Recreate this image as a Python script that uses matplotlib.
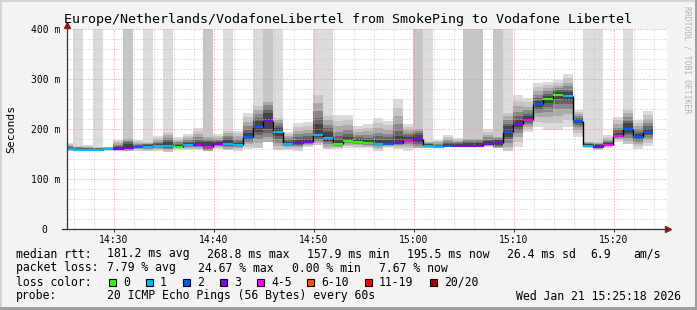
import numpy as np
import matplotlib
matplotlib.use("Agg")
import matplotlib.pyplot as plt
import matplotlib.dates as mdates
from matplotlib.patches import Rectangle
from datetime import datetime, timedelta

W, H = 697, 310

# one smokeping step per minute, the first one starts before the graph
first_step = datetime(2026, 1, 21, 14, 24, 54)
graph_start = datetime(2026, 1, 21, 14, 25, 18)
graph_end = datetime(2026, 1, 21, 15, 25, 18)

median_ms = [161, 159, 159, 159, 161, 161, 163, 165, 165, 167,
             167, 165, 169, 169, 165, 171, 171, 169, 185, 205,
             217, 195, 171, 173, 175, 189, 183, 171, 177, 175,
             173, 171, 171, 173, 179, 181, 167, 165, 167, 167,
             167, 167, 171, 173, 195, 211, 219, 251, 261, 269,
             267, 217, 167, 165, 169, 187, 201, 185, 195]
loss_idx = [1, 1, 1, 1, 1, 3, 3, 2, 1, 1,
            1, 0, 1, 3, 4, 3, 1, 1, 2, 2,
            3, 1, 1, 3, 3, 1, 1, 0, 0, 0,
            0, 1, 2, 3, 4, 3, 1, 1, 2, 3,
            3, 3, 3, 3, 2, 3, 4, 2, 0, 0,
            1, 2, 1, 3, 4, 4, 2, 2, 2]
smoke_lo = [156, 156, 156, 156, 157, 156, 157, 157, 157, 156,
            155, 159, 158, 158, 157, 161, 158, 156, 160, 163,
            175, 158, 158, 157, 165, 169, 160, 161, 163, 162,
            162, 157, 162, 160, 157, 162, 162, 163, 164, 164,
            164, 164, 164, 163, 157, 165, 195, 205, 199, 199,
            205, 185, 163, 159, 163, 175, 171, 161, 166]
smoke_hi = [173, 166, 168, 164, 165, 179, 180, 178, 175, 186,
            193, 185, 190, 203, 185, 190, 197, 197, 233, 246,
            255, 223, 195, 213, 215, 268, 226, 228, 228, 206,
            210, 223, 217, 260, 210, 200, 175, 179, 188, 183,
            180, 180, 200, 185, 233, 268, 262, 293, 295, 299,
            310, 239, 175, 175, 188, 225, 239, 219, 237]
# pings above the top of the graph in each step
pings_over = [0, 1, 0, 1, 0, 0, 2, 0, 1, 0,
              1, 0, 0, 0, 2, 0, 1, 0, 0, 1,
              2, 1, 0, 0, 0, 1, 1, 0, 0, 0,
              0, 0, 0, 0, 0, 2, 1, 0, 0, 0,
              2, 2, 0, 2, 1, 0, 0, 0, 0, 0,
              0, 0, 1, 1, 0, 0, 1, 0, 0]

loss_labels = ["0", "1", "2", "3", "4-5", "6-10", "11-19", "20/20"]
loss_colors = ["#26ff00", "#00b8ff", "#0059ff", "#7e00ff",
               "#ff00ff", "#ff5500", "#ff0000", "#a10000"]

y_ticks = [0, 100, 200, 300, 400]
y_labels = ["0  ", "100 m", "200 m", "300 m", "400 m"]

title = "Europe/Netherlands/VodafoneLibertel from SmokePing to Vodafone Libertel"
rtt_items = [("median rtt:", 16), ("181.2 ms avg", 107), ("268.8 ms max", 207),
             ("157.9 ms min", 307), ("195.5 ms now", 407), ("26.4 ms sd", 507),
             ("6.9", 590), ("am/s", 633)]
loss_items = [("packet loss:", 16), ("7.79 % avg", 107), ("24.67 % max", 198),
              ("0.00 % min", 292), ("7.67 % now", 379)]
box_x = [109, 146, 183, 220, 257, 307, 365, 430]

plt.rcParams['font.family'] = 'DejaVu Sans Mono'


def fx(px):
    return px / W


def fy(py):
    return 1 - py / H


fig = plt.figure(figsize=(W / 100, H / 100), dpi=100)
fig.patch.set_facecolor('#f3f3f3')
ax = fig.add_axes([fx(67), fy(229), 600 / W, 200 / H])
ax.set_facecolor('white')
for s in ax.spines.values():
    s.set_visible(False)

starts = mdates.date2num([first_step + timedelta(minutes=i) for i in range(len(median_ms))])
step = 1 / 1440.0
med = np.array(median_ms, float)
lo = np.array(smoke_lo, float)
hi = np.array(smoke_hi, float)
over = np.array(pings_over)

shades = ['#dcdcdc', '#c6c6c6', '#aaaaaa', '#888888', '#666666', '#444444']
fracs = [1.0, 0.8, 0.6, 0.42, 0.27, 0.14]

# pings out of range -> bar to the top
for n in (1, 2):
    sel = over >= n
    ax.bar(starts[sel], 400 - lo[sel], bottom=lo[sel], width=step, align='edge',
           color=shades[n - 1], lw=0, zorder=1)

# smoke, darker towards the median
for k, f in enumerate(fracs):
    b = med - f * (med - lo)
    t = med + f * (hi - med)
    cols = [shades[min(k + o, 5)] for o in over]
    ax.bar(starts, t - b, bottom=b, width=step, align='edge', color=cols, lw=0, zorder=1)

ax.vlines(starts[1:], med[:-1], med[1:], color='black', lw=1.0, zorder=3)
ax.hlines(med, starts, starts + step, colors=[loss_colors[i] for i in loss_idx],
          lw=1.5, zorder=4)

ax.set_xlim(mdates.date2num(graph_start), mdates.date2num(graph_end))
ax.set_ylim(0, 400)
ax.xaxis.set_major_locator(mdates.MinuteLocator(byminute=range(0, 60, 10)))
ax.xaxis.set_minor_locator(mdates.MinuteLocator(byminute=range(0, 60, 2)))
ax.xaxis.set_major_formatter(mdates.DateFormatter('%H:%M'))
ax.set_yticks(y_ticks, y_labels)
ax.set_yticks(np.arange(0, 401, 20), minor=True)
ax.set_axisbelow(False)
ax.grid(which='minor', color='#c8c8c8', linestyle=(0, (1, 2)), lw=0.72)
ax.grid(which='major', color='#f09090', linestyle=(0, (1, 2)), lw=0.72)
ax.tick_params(axis='y', which='both', length=0, pad=5, labelsize=7)
ax.tick_params(axis='x', which='major', length=2, width=0.7, color='#333333',
               pad=2, labelsize=7)
ax.tick_params(axis='x', which='minor', length=0)

# axis lines with arrows
ax.plot([0, 0], [0, 1.025], transform=ax.transAxes, color='#333333', lw=0.9,
        clip_on=False, zorder=5)
ax.plot([0], [1.02], transform=ax.transAxes, marker='^', ms=5, color='#8b1a1a',
        clip_on=False, zorder=6)
ax.plot([-5 / 600, 1.0], [0, 0], transform=ax.transAxes, color='#333333', lw=0.9,
        clip_on=False, zorder=5)
ax.plot([1.002], [0], transform=ax.transAxes, marker='>', ms=5, color='#8b1a1a',
        clip_on=False, zorder=6)

fig.text(fx(348), fy(23), title, ha='center', va='baseline', fontsize=9.6)
fig.text(fx(11), fy(129), 'Seconds', rotation=90, ha='center', va='center', fontsize=8.2)
fig.text(fx(687), fy(60), 'RRDTOOL / TOBI OETIKER', rotation=270, ha='center',
         va='center', fontsize=5.8, color='#b4b4b4')

for txt, x in rtt_items:
    fig.text(fx(x), fy(257.5), txt, va='baseline', fontsize=8.3)
for txt, x in loss_items:
    fig.text(fx(x), fy(271.5), txt, va='baseline', fontsize=8.3)
fig.text(fx(16), fy(285.5), 'loss color:', va='baseline', fontsize=8.3)
for lab, c, x in zip(loss_labels, loss_colors, box_x):
    fig.add_artist(Rectangle((fx(x), fy(286)), 7 / W, 7 / H, transform=fig.transFigure,
                             facecolor=c, edgecolor='black', lw=0.8))
    fig.text(fx(x + 14), fy(285.5), lab, va='baseline', fontsize=8.3)
fig.text(fx(16), fy(299.5), 'probe:', va='baseline', fontsize=8.3)
fig.text(fx(107), fy(299.5), '20 ICMP Echo Pings (56 Bytes) every 60s', va='baseline',
         fontsize=8.3)
fig.text(fx(681), fy(299.5), 'Wed Jan 21 15:25:18 2026', ha='right', va='baseline',
         fontsize=8.3)

# 3d frame round the canvas
fig.add_artist(Rectangle((0, fy(2)), 1, 2 / H, transform=fig.transFigure, color='#d4d4d4', lw=0))
fig.add_artist(Rectangle((0, 0), 2 / W, 1, transform=fig.transFigure, color='#d4d4d4', lw=0))
fig.add_artist(Rectangle((fx(695), 0), 2 / W, 1, transform=fig.transFigure, color='#9e9e9e', lw=0))
fig.add_artist(Rectangle((0, 0), 1, 3 / H, transform=fig.transFigure, color='#9e9e9e', lw=0))

fig.savefig('out.png', dpi=100, facecolor=fig.get_facecolor())
